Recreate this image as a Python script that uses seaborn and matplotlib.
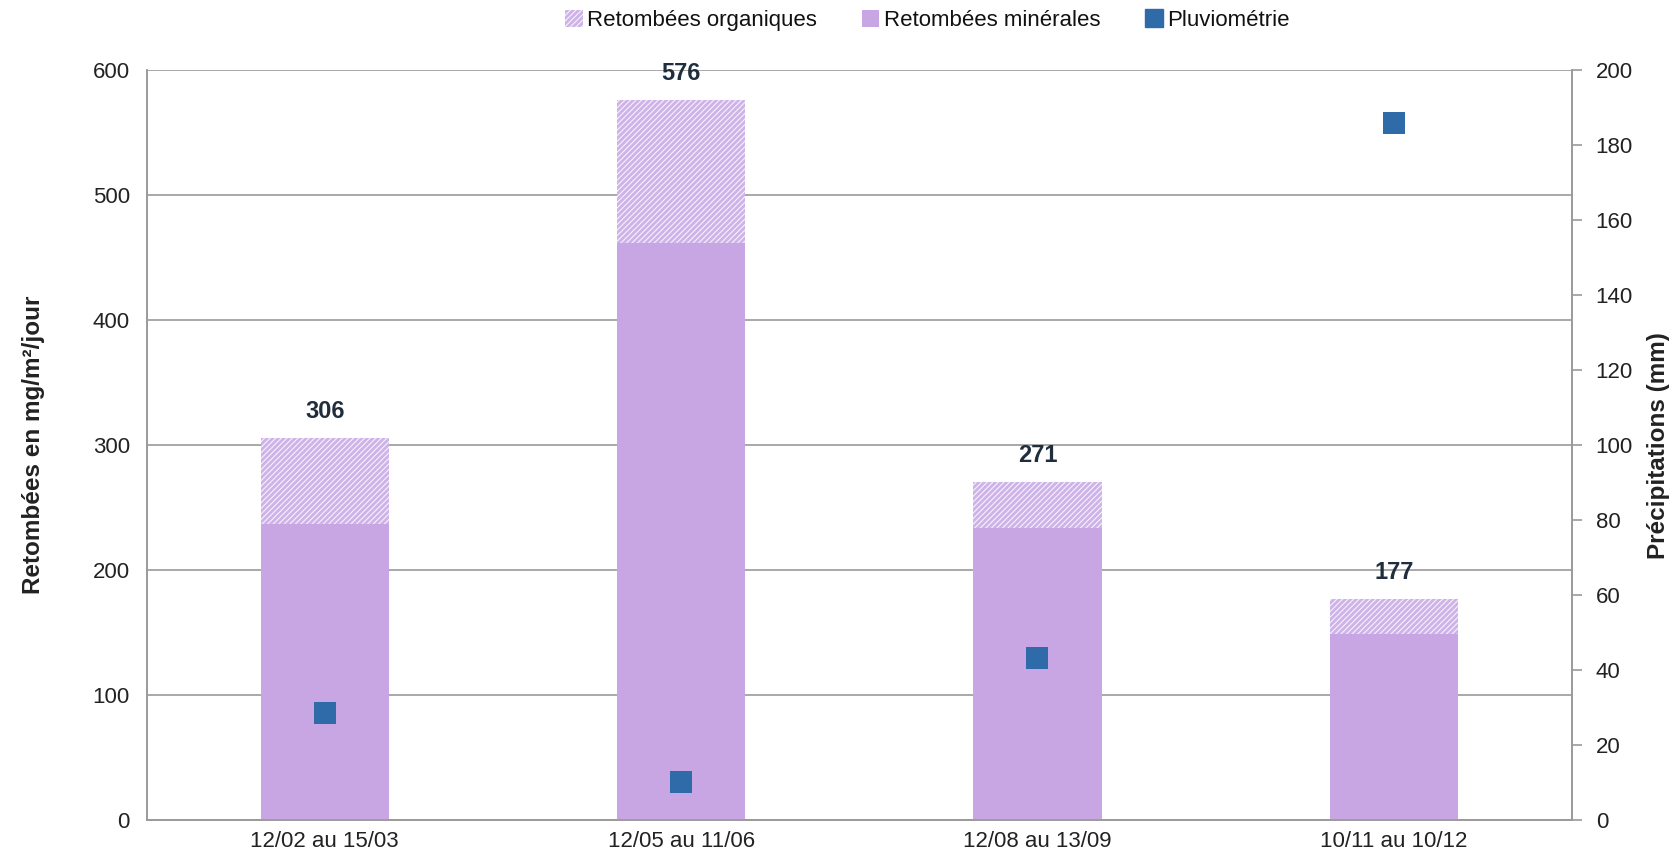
import matplotlib
matplotlib.use("Agg")
import matplotlib.pyplot as plt
import matplotlib.patches as mpatches
from matplotlib.lines import Line2D
import seaborn as sns
import pandas as pd
from matplotlib import font_manager

periods = ["12/02 au 15/03", "12/05 au 11/06", "12/08 au 13/09", "10/11 au 10/12"]
totals = [306, 576, 271, 177]
minerales = [237, 462, 234, 149]
pluvio = [28.5, 10.3, 43.4, 186]

sns.set_theme(style="white")
names = {f.name for f in font_manager.fontManager.ttflist}
fam = "Liberation Sans Narrow" if "Liberation Sans Narrow" in names else "Liberation Sans"
plt.rcParams["font.family"] = [fam, "DejaVu Sans"]
plt.rcParams["hatch.linewidth"] = 2.0

df = pd.DataFrame({"periode": periods, "total": totals, "min": minerales, "pluie": pluvio})

c_min = "#C8A5E3"
c_hatch = "#CDB3E8"
c_pt = "#2E6BA8"
grid_c = "#9A9A9A"
txt = "#222222"

fig = plt.figure(figsize=(16.77, 8.66), dpi=100)
ax = fig.add_axes([0.0874, 0.0528, 0.85, 0.866])

sns.barplot(data=df, x="periode", y="total", ax=ax, color="#F6F0FB", width=0.36,
            hatch="//////", edgecolor=c_hatch, linewidth=0, saturation=1, zorder=2)
sns.barplot(data=df, x="periode", y="min", ax=ax, color=c_min, width=0.36,
            linewidth=0, saturation=1, zorder=3)

for i, t in enumerate(totals):
    ax.text(i, t + 12, f"{t}", ha="center", va="bottom", fontsize=17,
            fontweight="bold", color="#1F2D3D", zorder=5)

ax.set_xlim(-0.5, 3.5)
ax.set_ylim(0, 600)
ax.set_yticks(range(0, 601, 100))
ax.yaxis.grid(True, color=grid_c, linewidth=1.2, zorder=0)
ax.set_axisbelow(True)
ax.set_xlabel("")
ax.set_ylabel("Retombées en mg/m²/jour", fontsize=17.5, fontweight="bold", color=txt, labelpad=34)
ax.tick_params(axis="y", labelsize=16, colors=txt, length=0, pad=12)
ax.tick_params(axis="x", labelsize=16, colors=txt, length=0, pad=8)
for s in ["left", "bottom", "right", "top"]:
    ax.spines[s].set_color(grid_c)
    ax.spines[s].set_linewidth(1.2)
ax.spines["top"].set_visible(False)
ax.set_xticks([-0.5, 0.5, 1.5, 2.5, 3.5], minor=True)
ax.tick_params(axis="x", which="minor", length=7, color=grid_c, width=1.2, direction="out")

ax2 = ax.twinx()
sns.scatterplot(data=df, x="periode", y="pluie", ax=ax2, marker="s", s=260,
                color=c_pt, edgecolor=c_pt, linewidth=0, zorder=6)
ax2.set_ylim(0, 200)
ax2.set_yticks(range(0, 201, 20))
ax2.set_ylabel("Précipitations (mm)", fontsize=17.5, fontweight="bold", color=txt, labelpad=10)
ax2.tick_params(axis="y", labelsize=16, colors=txt, length=7, color=grid_c, width=1.2, pad=10)
for s in ["left", "bottom", "right", "top"]:
    ax2.spines[s].set_color(grid_c)
    ax2.spines[s].set_linewidth(1.2)
ax2.spines["top"].set_visible(False)
ax2.grid(False)
ax2.set_xlim(-0.5, 3.5)

handles = [
    mpatches.Patch(facecolor="#F6F0FB", edgecolor=c_hatch, hatch="//////", linewidth=0, label="Retombées organiques"),
    mpatches.Patch(facecolor=c_min, linewidth=0, label="Retombées minérales"),
    Line2D([0], [0], marker="s", color="none", markerfacecolor=c_pt, markeredgecolor=c_pt,
           markersize=13, label="Pluviométrie"),
]
fig.legend(handles=handles, loc="upper center", bbox_to_anchor=(0.553, 1.012), ncol=3,
           frameon=False, fontsize=16, handlelength=0.8, handleheight=0.8,
           handletextpad=0.2, columnspacing=2.0, labelcolor="#111111")

fig.savefig("out.png", dpi=100)
